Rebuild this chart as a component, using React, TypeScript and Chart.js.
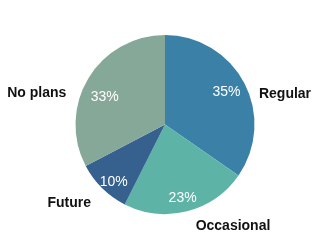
import React, { useEffect, useRef } from "react";
import { Chart, registerables } from "chart.js";

Chart.register(...registerables);

const categories = ["Regular", "Occasional", "Future", "No plans"];
const values = [35, 23, 10, 33];
const percentLabels = ["35%", "23%", "10%", "33%"];
const colors = ["#3b81a7", "#5cb3a6", "#36608e", "#86a898"];

// Label placement styles (pixel nudges relative to computed anchors)
const innerNudges = [
  { dx: -2, dy: 0 },
  { dx: 0, dy: 3 },
  { dx: -1, dy: 5 },
  { dx: 1, dy: 9 },
];
// outer category label: offset from pie centre (text centre x, baseline y)
const outerOffsets = [
  { dx: 120, dy: -26.5 },
  { dx: 68, dy: 105.3 },
  { dx: -95.8, dy: 82.7 },
  { dx: -128.3, dy: -27.3 },
];

const labelPlugin = {
  id: "pieLabels",
  afterDatasetsDraw(chart: any) {
    const ctx = chart.ctx;
    const meta = chart.getDatasetMeta(0);
    ctx.save();
    meta.data.forEach((arc: any, i: number) => {
      const { x, y, startAngle, endAngle, outerRadius } = arc.getProps(
        ["x", "y", "startAngle", "endAngle", "outerRadius"],
        true
      );
      const mid = (startAngle + endAngle) / 2;
      const r = outerRadius * 0.8;
      const px = x + Math.cos(mid) * r + innerNudges[i].dx;
      const py = y + Math.sin(mid) * r + innerNudges[i].dy;
      ctx.font = "14px 'Liberation Sans', Arial, sans-serif";
      ctx.fillStyle = "#ffffff";
      ctx.textAlign = "center";
      ctx.textBaseline = "alphabetic";
      ctx.fillText(percentLabels[i], px, py + 5);

      ctx.font = "bold 14px 'Liberation Sans', Arial, sans-serif";
      ctx.fillStyle = "#111111";
      ctx.fillText(categories[i], x + outerOffsets[i].dx, y + outerOffsets[i].dy);
    });
    ctx.restore();
  },
};

export default function App() {
  const ref = useRef<HTMLCanvasElement | null>(null);
  useEffect(() => {
    if (!ref.current) return;
    const chart = new Chart(ref.current, {
      type: "pie",
      data: {
        labels: categories,
        datasets: [
          {
            data: values,
            backgroundColor: colors,
            borderWidth: 0,
          },
        ],
      },
      options: {
        responsive: false,
        animation: false,
        layout: { padding: { top: 35, bottom: 35, left: 75.5, right: 79.5 } },
        plugins: {
          legend: { display: false },
          tooltip: { enabled: false },
        },
      },
      plugins: [labelPlugin],
    });
    return () => chart.destroy();
  }, []);
  return (
    <div style={{ position: "fixed", left: 0, top: 0, width: 334, height: 249, background: "#ffffff" }}>
      <canvas ref={ref} width={334} height={249} />
    </div>
  );
}
